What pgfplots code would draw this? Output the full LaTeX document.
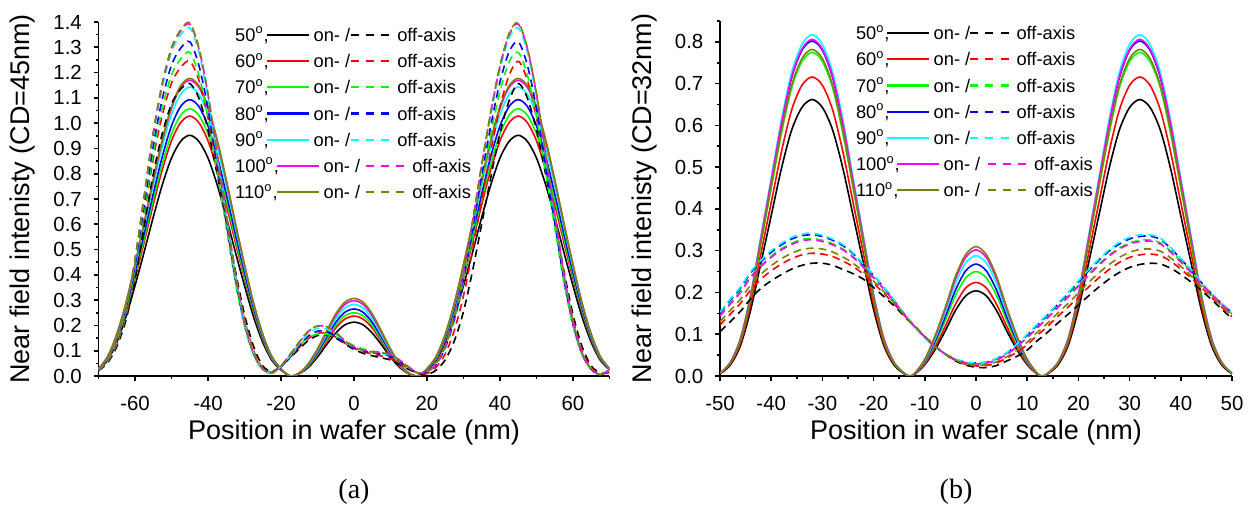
\documentclass[border=0pt]{standalone}
\usepackage{fontspec}
\setmainfont{Liberation Sans}
\newfontfamily\seriffont{Liberation Serif}
\usepackage{pgfplots}
\usepackage{pgfplotstable}
\pgfplotsset{compat=1.18}

\definecolor{ogreen}{RGB}{0,255,0}
\definecolor{oblue}{RGB}{0,0,255}
\definecolor{ocyan}{RGB}{0,255,255}
\definecolor{omagenta}{RGB}{255,0,255}
\definecolor{oolive}{RGB}{128,128,0}

% CD = 45 nm: s = on-axis, d = off-axis
\pgfplotstableread{
x s50 s60 s70 s80 s90 s100 s110 d50 d60 d70 d80 d90 d100 d110
-70 0.024 0.026 0.026 0.027 0.029 0.029 0.029 0.021 0.022 0.023 0.024 0.025 0.025 0.025
-67.5 0.062 0.067 0.069 0.071 0.074 0.076 0.077 0.052 0.056 0.058 0.059 0.062 0.063 0.063
-65 0.133 0.144 0.148 0.153 0.160 0.164 0.165 0.116 0.125 0.128 0.132 0.138 0.139 0.140
-62.5 0.233 0.252 0.259 0.268 0.280 0.287 0.288 0.220 0.237 0.243 0.251 0.262 0.264 0.265
-60 0.357 0.386 0.396 0.410 0.429 0.439 0.441 0.382 0.411 0.422 0.436 0.454 0.459 0.461
-57.5 0.490 0.529 0.544 0.563 0.589 0.603 0.606 0.590 0.635 0.653 0.674 0.702 0.710 0.712
-55 0.628 0.678 0.698 0.721 0.754 0.772 0.777 0.798 0.859 0.883 0.912 0.950 0.960 0.964
-52.5 0.757 0.817 0.840 0.869 0.909 0.930 0.936 0.960 1.033 1.062 1.097 1.143 1.155 1.160
-50 0.862 0.930 0.957 0.989 1.034 1.059 1.065 1.076 1.158 1.190 1.229 1.281 1.295 1.299
-47.5 0.928 1.002 1.031 1.066 1.114 1.141 1.148 1.134 1.220 1.254 1.296 1.349 1.364 1.369
-45 0.952 1.028 1.057 1.093 1.143 1.170 1.177 1.157 1.245 1.280 1.322 1.377 1.392 1.397
-42.5 0.928 1.002 1.031 1.066 1.114 1.141 1.148 1.099 1.170 1.190 1.229 1.281 1.295 1.299
-40 0.862 0.930 0.957 0.989 1.034 1.059 1.065 0.972 1.021 1.024 1.058 1.102 1.114 1.118
-37.5 0.757 0.817 0.840 0.869 0.909 0.930 0.936 0.798 0.822 0.806 0.833 0.868 0.877 0.880
-35 0.628 0.678 0.698 0.721 0.754 0.772 0.777 0.613 0.610 0.589 0.608 0.633 0.640 0.643
-32.5 0.490 0.529 0.544 0.563 0.589 0.603 0.606 0.417 0.398 0.371 0.383 0.399 0.404 0.405
-30 0.357 0.386 0.396 0.410 0.429 0.439 0.441 0.243 0.224 0.198 0.205 0.213 0.216 0.217
-27.5 0.233 0.252 0.259 0.268 0.280 0.287 0.288 0.116 0.100 0.083 0.086 0.090 0.090 0.091
-25 0.133 0.144 0.148 0.153 0.160 0.164 0.165 0.040 0.031 0.026 0.026 0.028 0.028 0.028
-22.5 0.062 0.067 0.069 0.071 0.074 0.076 0.077 0.018 0.015 0.013 0.012 0.012 0.012 0.012
-20 0.024 0.026 0.026 0.027 0.029 0.029 0.029 0.040 0.038 0.040 0.036 0.038 0.040 0.040
-17.5 0 0 0 0 0 0 0 0.072 0.074 0.080 0.076 0.080 0.085 0.085
-15 0.009 0.009 0.010 0.011 0.011 0.012 0.012 0.108 0.113 0.120 0.120 0.127 0.133 0.135
-12.5 0.034 0.038 0.040 0.042 0.045 0.048 0.049 0.140 0.148 0.152 0.158 0.168 0.176 0.178
-10 0.075 0.083 0.088 0.093 0.099 0.104 0.107 0.160 0.168 0.166 0.177 0.188 0.197 0.198
-7.5 0.124 0.137 0.145 0.154 0.164 0.173 0.178 0.163 0.170 0.165 0.176 0.186 0.195 0.195
-5 0.170 0.190 0.200 0.212 0.226 0.238 0.246 0.150 0.154 0.155 0.158 0.165 0.172 0.172
-2.5 0.202 0.225 0.238 0.252 0.269 0.283 0.292 0.127 0.130 0.138 0.133 0.137 0.140 0.140
0 0.213 0.237 0.250 0.265 0.283 0.298 0.307 0.105 0.110 0.120 0.112 0.113 0.115 0.115
2.5 0.202 0.225 0.238 0.252 0.269 0.283 0.292 0.090 0.096 0.107 0.099 0.101 0.103 0.102
5 0.170 0.190 0.200 0.212 0.226 0.238 0.246 0.080 0.087 0.098 0.092 0.094 0.097 0.095
7.5 0.124 0.137 0.145 0.154 0.164 0.173 0.178 0.072 0.079 0.090 0.086 0.089 0.093 0.092
10 0.075 0.083 0.088 0.093 0.099 0.104 0.107 0.063 0.070 0.080 0.078 0.082 0.086 0.085
12.5 0.034 0.038 0.040 0.042 0.045 0.048 0.049 0.045 0.050 0.060 0.057 0.060 0.063 0.062
15 0.009 0.009 0.010 0.011 0.011 0.012 0.012 0.026 0.029 0.035 0.032 0.034 0.036 0.035
17.5 0 0 0 0 0 0 0 0.011 0.012 0.013 0.012 0.012 0.012 0.012
20 0.024 0.026 0.026 0.027 0.029 0.029 0.029 0.006 0.010 0.015 0.016 0.017 0.017 0.017
22.5 0.062 0.067 0.069 0.071 0.074 0.076 0.077 0.023 0.035 0.045 0.046 0.048 0.049 0.049
25 0.133 0.144 0.148 0.153 0.160 0.164 0.165 0.064 0.087 0.109 0.112 0.117 0.118 0.119
27.5 0.233 0.252 0.259 0.268 0.280 0.287 0.288 0.139 0.181 0.218 0.225 0.234 0.237 0.237
30 0.357 0.386 0.396 0.410 0.429 0.439 0.441 0.255 0.317 0.371 0.383 0.399 0.404 0.405
32.5 0.490 0.529 0.544 0.563 0.589 0.603 0.606 0.417 0.498 0.563 0.582 0.606 0.612 0.615
35 0.628 0.678 0.698 0.721 0.754 0.772 0.777 0.602 0.697 0.768 0.793 0.826 0.835 0.838
37.5 0.757 0.817 0.840 0.869 0.909 0.930 0.936 0.787 0.890 0.960 0.992 1.033 1.044 1.048
40 0.862 0.930 0.957 0.989 1.034 1.059 1.065 0.960 1.064 1.126 1.163 1.212 1.225 1.229
42.5 0.928 1.002 1.031 1.066 1.114 1.141 1.148 1.088 1.189 1.242 1.282 1.336 1.350 1.355
45 0.952 1.028 1.057 1.093 1.143 1.170 1.177 1.157 1.245 1.280 1.322 1.377 1.392 1.397
47.5 0.928 1.002 1.031 1.066 1.114 1.141 1.148 1.099 1.170 1.190 1.229 1.281 1.295 1.299
50 0.862 0.930 0.957 0.989 1.034 1.059 1.065 0.972 1.021 1.024 1.058 1.102 1.114 1.118
52.5 0.757 0.817 0.840 0.869 0.909 0.930 0.936 0.798 0.822 0.806 0.833 0.868 0.877 0.880
55 0.628 0.678 0.698 0.721 0.754 0.772 0.777 0.613 0.610 0.589 0.608 0.633 0.640 0.643
57.5 0.490 0.529 0.544 0.563 0.589 0.603 0.606 0.417 0.398 0.371 0.383 0.399 0.404 0.405
60 0.357 0.386 0.396 0.410 0.429 0.439 0.441 0.243 0.224 0.198 0.205 0.213 0.216 0.217
62.5 0.233 0.252 0.259 0.268 0.280 0.287 0.288 0.116 0.100 0.083 0.086 0.090 0.090 0.091
65 0.133 0.144 0.148 0.153 0.160 0.164 0.165 0.040 0.031 0.026 0.026 0.028 0.028 0.028
67.5 0.062 0.067 0.069 0.071 0.074 0.076 0.077 0.012 0.006 0.005 0.005 0.006 0.006 0.006
70 0.024 0.026 0.026 0.027 0.029 0.029 0.029 0.014 0.019 0.023 0.024 0.025 0.025 0.025
}\cdA

% CD = 32 nm
\pgfplotstableread{
x s50 s60 s70 s80 s90 s100 s110 d50 d60 d70 d80 d90 d100 d110
-50 0.005 0.006 0.006 0.006 0.007 0.006 0.006 0.106 0.122 0.145 0.151 0.153 0.143 0.130
-48 0.026 0.029 0.031 0.032 0.033 0.032 0.031 0.130 0.148 0.174 0.181 0.184 0.172 0.157
-46 0.073 0.079 0.085 0.088 0.090 0.089 0.086 0.155 0.174 0.203 0.210 0.213 0.200 0.184
-44 0.159 0.172 0.186 0.192 0.196 0.193 0.188 0.185 0.206 0.238 0.247 0.250 0.236 0.218
-42 0.271 0.294 0.318 0.329 0.335 0.330 0.321 0.210 0.232 0.265 0.274 0.277 0.262 0.244
-40 0.384 0.415 0.450 0.465 0.474 0.467 0.454 0.228 0.252 0.287 0.296 0.300 0.284 0.264
-38 0.497 0.537 0.581 0.602 0.613 0.605 0.587 0.243 0.268 0.305 0.314 0.318 0.302 0.281
-36 0.589 0.637 0.690 0.714 0.727 0.717 0.696 0.256 0.281 0.318 0.328 0.332 0.315 0.294
-34 0.643 0.696 0.753 0.780 0.794 0.783 0.760 0.265 0.290 0.327 0.336 0.340 0.324 0.303
-32 0.662 0.716 0.775 0.802 0.817 0.806 0.782 0.270 0.294 0.329 0.338 0.342 0.326 0.306
-30 0.643 0.696 0.753 0.780 0.794 0.783 0.760 0.270 0.292 0.325 0.334 0.337 0.322 0.304
-28 0.589 0.637 0.690 0.714 0.727 0.717 0.696 0.265 0.286 0.317 0.325 0.328 0.314 0.297
-26 0.497 0.537 0.581 0.602 0.613 0.605 0.587 0.255 0.275 0.304 0.312 0.315 0.302 0.285
-24 0.384 0.415 0.450 0.465 0.474 0.467 0.454 0.245 0.262 0.286 0.293 0.295 0.284 0.270
-22 0.271 0.294 0.318 0.329 0.335 0.330 0.321 0.232 0.244 0.262 0.266 0.268 0.260 0.250
-20 0.159 0.172 0.186 0.192 0.196 0.193 0.188 0.212 0.222 0.237 0.241 0.242 0.235 0.227
-18 0.073 0.079 0.085 0.088 0.090 0.089 0.086 0.190 0.198 0.209 0.212 0.213 0.208 0.202
-16 0.026 0.029 0.031 0.032 0.033 0.032 0.031 0.168 0.173 0.179 0.181 0.182 0.179 0.175
-14 0.005 0.006 0.006 0.006 0.007 0.006 0.006 0.143 0.145 0.147 0.148 0.148 0.147 0.146
-13 0 0 0 0 0 0 0 0.131 0.132 0.133 0.133 0.133 0.133 0.132
-12 0.004 0.004 0.005 0.005 0.006 0.006 0.006 0.120 0.119 0.118 0.118 0.118 0.118 0.119
-10 0.027 0.029 0.033 0.035 0.037 0.039 0.040 0.095 0.094 0.093 0.092 0.092 0.093 0.094
-8 0.063 0.069 0.078 0.083 0.089 0.094 0.096 0.072 0.071 0.070 0.070 0.070 0.070 0.071
-6 0.108 0.119 0.133 0.142 0.153 0.160 0.164 0.052 0.052 0.053 0.053 0.053 0.053 0.053
-4 0.157 0.172 0.193 0.206 0.222 0.233 0.239 0.036 0.037 0.039 0.040 0.040 0.039 0.038
-2 0.192 0.211 0.235 0.252 0.271 0.284 0.291 0.026 0.028 0.032 0.033 0.033 0.031 0.030
0 0.204 0.224 0.250 0.268 0.288 0.302 0.310 0.021 0.024 0.029 0.031 0.031 0.029 0.026
2 0.192 0.211 0.235 0.252 0.271 0.284 0.291 0.020 0.025 0.031 0.033 0.034 0.031 0.027
4 0.157 0.172 0.193 0.206 0.222 0.233 0.239 0.025 0.031 0.039 0.041 0.042 0.038 0.034
6 0.108 0.119 0.133 0.142 0.153 0.160 0.164 0.036 0.043 0.052 0.055 0.056 0.052 0.046
8 0.063 0.069 0.078 0.083 0.089 0.094 0.096 0.047 0.057 0.071 0.075 0.076 0.070 0.062
10 0.027 0.029 0.033 0.035 0.037 0.039 0.040 0.062 0.075 0.093 0.098 0.100 0.092 0.081
12 0.004 0.004 0.005 0.005 0.006 0.006 0.006 0.085 0.098 0.117 0.122 0.124 0.115 0.105
13 0 0 0 0 0 0 0 0.094 0.108 0.128 0.134 0.136 0.127 0.115
14 0.005 0.006 0.006 0.006 0.007 0.006 0.006 0.105 0.119 0.140 0.146 0.148 0.139 0.127
16 0.026 0.029 0.031 0.032 0.033 0.032 0.031 0.127 0.143 0.166 0.172 0.174 0.164 0.151
18 0.073 0.079 0.085 0.088 0.090 0.089 0.086 0.148 0.165 0.191 0.197 0.200 0.189 0.174
20 0.159 0.172 0.186 0.192 0.196 0.193 0.188 0.170 0.189 0.218 0.225 0.228 0.215 0.199
22 0.271 0.294 0.318 0.329 0.335 0.330 0.321 0.192 0.213 0.244 0.252 0.255 0.241 0.224
24 0.384 0.415 0.450 0.465 0.474 0.467 0.454 0.213 0.235 0.268 0.277 0.280 0.265 0.247
26 0.497 0.537 0.581 0.602 0.613 0.605 0.587 0.232 0.255 0.289 0.299 0.302 0.287 0.267
28 0.589 0.637 0.690 0.714 0.727 0.717 0.696 0.248 0.272 0.307 0.316 0.320 0.304 0.284
30 0.643 0.696 0.753 0.780 0.794 0.783 0.760 0.260 0.284 0.319 0.328 0.332 0.316 0.296
32 0.662 0.716 0.775 0.802 0.817 0.806 0.782 0.267 0.290 0.325 0.334 0.338 0.322 0.303
34 0.643 0.696 0.753 0.780 0.794 0.783 0.760 0.270 0.292 0.326 0.335 0.338 0.323 0.304
36 0.589 0.637 0.690 0.714 0.727 0.717 0.696 0.268 0.288 0.319 0.327 0.330 0.316 0.299
38 0.497 0.537 0.581 0.602 0.613 0.605 0.587 0.258 0.275 0.299 0.306 0.308 0.297 0.283
40 0.384 0.415 0.450 0.465 0.474 0.467 0.454 0.243 0.256 0.275 0.280 0.282 0.273 0.263
42 0.271 0.294 0.318 0.329 0.335 0.330 0.321 0.225 0.235 0.250 0.254 0.255 0.248 0.240
44 0.159 0.172 0.186 0.192 0.196 0.193 0.188 0.205 0.212 0.221 0.224 0.225 0.221 0.215
46 0.073 0.079 0.085 0.088 0.090 0.089 0.086 0.183 0.188 0.195 0.197 0.198 0.195 0.191
48 0.026 0.029 0.031 0.032 0.033 0.032 0.031 0.160 0.165 0.171 0.173 0.174 0.171 0.167
50 0.005 0.006 0.006 0.006 0.007 0.006 0.006 0.137 0.142 0.149 0.151 0.152 0.149 0.145
}\cdB

% legend row pieces
\newcommand{\solidsample}[1]{\textcolor{#1}{\rule[2.8pt]{20.8pt}{1.05pt}}}
\newcommand{\dashsample}[1]{\textcolor{#1}{\rule[2.8pt]{4pt}{1.05pt}\hspace{3.6pt}\rule[2.8pt]{4pt}{1.05pt}\hspace{3.6pt}\rule[2.8pt]{4pt}{1.05pt}}}
% #1 label width, #2 angle, #3 colour, #4 gap after the slash
\newcommand{\legrow}[4]{\makebox[#1][l]{#2\textsuperscript{o},}\solidsample{#3}\hspace{2.5pt}\makebox[17.8pt][l]{on- /}\hspace{#4}\dashsample{#3}\hspace{4pt}off-axis}

\pgfplotsset{
  nf/.style={
    scale only axis, anchor=south west,
    axis lines*=left,
    axis line style={line width=0.8pt},
    tick align=outside,
    tick style={line width=0.8pt, black},
    major tick length=2.4pt, minor tick length=1.4pt,
    tick label style={font=\fontsize{10.2}{12}\selectfont},
    /pgf/number format/assume math mode=true,
    xticklabel style={yshift=-4pt},
    yticklabel style={/pgf/number format/fixed, /pgf/number format/fixed zerofill, /pgf/number format/precision=1, xshift=-2.4pt},
    label style={font=\fontsize{13.5}{15}\selectfont},
    xlabel={Position in wafer scale (nm)},
    ymin=0,
    every axis plot/.append style={line width=0.8pt, no markers, smooth},
  },
  dsh/.style={dash pattern=on 3.8pt off 2.6pt},
}

\begin{document}
\begin{tikzpicture}
\useasboundingbox (0,0) rectangle (624pt,256pt);

\begin{axis}[nf,
  at={(49.25pt,68pt)}, width=255.5pt, height=177pt,
  xmin=-70, xmax=70, ymax=1.4,
  xtick={-60,-40,-20,0,20,40,60},
  minor xtick={-70,-50,-30,-10,10,30,50,70},
  ytick={0,0.1,0.2,0.3,0.4,0.5,0.6,0.7,0.8,0.9,1.0,1.1,1.2,1.3,1.4},
  minor ytick={0.05,0.15,0.25,0.35,0.45,0.55,0.65,0.75,0.85,0.95,1.05,1.15,1.25,1.35},
  ylabel={Near field intenisty (CD=45nm)},
  xlabel style={at={(axis description cs:0.5,-0.161)}, anchor=center},
  ylabel style={at={(axis description cs:-0.149,0.5)}, anchor=center},
]
\addplot[black] table[x=x,y=s50]{\cdA};
\addplot[red] table[x=x,y=s60]{\cdA};
\addplot[ogreen] table[x=x,y=s70]{\cdA};
\addplot[oblue] table[x=x,y=s80]{\cdA};
\addplot[ocyan] table[x=x,y=s90]{\cdA};
\addplot[omagenta] table[x=x,y=s100]{\cdA};
\addplot[oolive] table[x=x,y=s110]{\cdA};
\addplot[black,dsh] table[x=x,y=d50]{\cdA};
\addplot[red,dsh] table[x=x,y=d60]{\cdA};
\addplot[ogreen,dsh] table[x=x,y=d70]{\cdA};
\addplot[oblue,dsh] table[x=x,y=d80]{\cdA};
\addplot[ocyan,dsh] table[x=x,y=d90]{\cdA};
\addplot[omagenta,dsh] table[x=x,y=d100]{\cdA};
\addplot[oolive,dsh] table[x=x,y=d110]{\cdA};
\end{axis}

\begin{axis}[nf,
  at={(360pt,68pt)}, width=256pt, height=177.5pt,
  xmin=-50, xmax=50, ymax=0.85,
  xtick={-50,-40,-30,-20,-10,0,10,20,30,40,50},
  minor xtick={-45,-35,-25,-15,-5,5,15,25,35,45},
  ytick={0,0.1,0.2,0.3,0.4,0.5,0.6,0.7,0.8},
  minor ytick={0.05,0.15,0.25,0.35,0.45,0.55,0.65,0.75,0.85},
  ylabel={Near field intenisty (CD=32nm)},
  xlabel style={at={(axis description cs:0.5,-0.1606)}, anchor=center},
  ylabel style={at={(axis description cs:-0.1475,0.5)}, anchor=center},
]
\addplot[black] table[x=x,y=s50]{\cdB};
\addplot[red] table[x=x,y=s60]{\cdB};
\addplot[ogreen] table[x=x,y=s70]{\cdB};
\addplot[oblue] table[x=x,y=s80]{\cdB};
\addplot[ocyan] table[x=x,y=s90]{\cdB};
\addplot[omagenta] table[x=x,y=s100]{\cdB};
\addplot[oolive] table[x=x,y=s110]{\cdB};
\addplot[black,dsh] table[x=x,y=d50]{\cdB};
\addplot[red,dsh] table[x=x,y=d60]{\cdB};
\addplot[ogreen,dsh] table[x=x,y=d70]{\cdB};
\addplot[oblue,dsh] table[x=x,y=d80]{\cdB};
\addplot[ocyan,dsh] table[x=x,y=d90]{\cdB};
\addplot[omagenta,dsh] table[x=x,y=d100]{\cdB};
\addplot[oolive,dsh] table[x=x,y=d110]{\cdB};
\end{axis}

% legends
\begin{scope}[every node/.style={anchor=base west, inner sep=0pt, font=\fontsize{9.15}{11}\selectfont}]
\node at (117.4pt,235.2pt) {\legrow{15.9pt}{50}{black}{0.85pt}};
\node at (117.4pt,222.1pt) {\legrow{15.9pt}{60}{red}{0.85pt}};
\node at (117.4pt,209.0pt) {\legrow{15.9pt}{70}{ogreen}{0.85pt}};
\node at (117.4pt,195.9pt) {\legrow{15.9pt}{80}{oblue}{0.85pt}};
\node at (117.4pt,182.8pt) {\legrow{15.9pt}{90}{ocyan}{0.85pt}};
\node at (117.4pt,169.7pt) {\legrow{20.9pt}{100}{omagenta}{3.35pt}};
\node at (117.4pt,156.6pt) {\legrow{20.9pt}{110}{oolive}{3.35pt}};
\node at (427.8pt,236.1pt) {\legrow{15.55pt}{50}{black}{0.4pt}};
\node at (427.8pt,223.0pt) {\legrow{15.55pt}{60}{red}{0.4pt}};
\node at (427.8pt,209.9pt) {\legrow{15.55pt}{70}{ogreen}{0.4pt}};
\node at (427.8pt,196.8pt) {\legrow{15.55pt}{80}{oblue}{0.4pt}};
\node at (427.8pt,183.7pt) {\legrow{15.55pt}{90}{ocyan}{0.4pt}};
\node at (427.8pt,170.6pt) {\legrow{20.55pt}{100}{omagenta}{4.2pt}};
\node at (427.8pt,157.5pt) {\legrow{20.55pt}{110}{oolive}{4.2pt}};
\end{scope}

\node[font=\seriffont\fontsize{14}{16}\selectfont] at (177pt,10.2pt) {(a)};
\node[font=\seriffont\fontsize{14}{16}\selectfont] at (478pt,10.2pt) {(b)};
\end{tikzpicture}
\end{document}
